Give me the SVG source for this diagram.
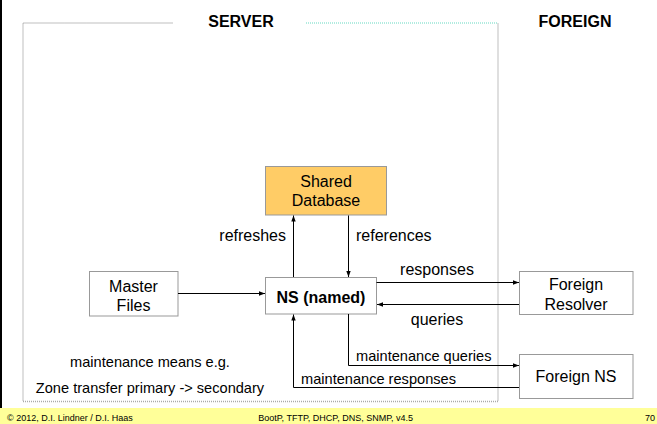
<svg xmlns="http://www.w3.org/2000/svg" width="657" height="424" viewBox="0 0 657 424">
<style>
text{font-family:"Liberation Sans",Arial,sans-serif;fill:#000}
.n{font-size:16px;text-anchor:middle}
.b{font-weight:bold}
.l{font-size:16px}
.s{font-size:14.6px}
.f{font-size:9px}
.box{fill:#fff;stroke:#999;stroke-width:1}
.c{fill:none;stroke:#000;stroke-width:1}
.dot{fill:none;stroke:#aaa;stroke-width:1.5;stroke-dasharray:1 1}
</style>
<defs>
<marker id="ah" viewBox="0 0 6 6" refX="6" refY="3" markerWidth="6" markerHeight="6" orient="auto" markerUnits="userSpaceOnUse">
<path d="M0,0.8 L6,3 L0,5.2 z" fill="#000"/>
</marker>
</defs>
<rect x="0" y="0" width="657" height="424" fill="#fff"/>
<line x1="1" y1="0" x2="1" y2="408" stroke="#000" stroke-width="2"/>
<rect x="0" y="408" width="657" height="16" fill="#FFFF99"/>

<g id="frame">
<polyline class="dot" points="172.5,23 23,23 23,401.5 498,401.5 498,23"/>
<line x1="306" y1="23" x2="498" y2="23" stroke="#99E6D6" stroke-width="1.5" stroke-dasharray="1 1"/>
<text class="n b" x="241" y="27">SERVER</text>
<text class="n b" x="575" y="27">FOREIGN</text>
</g>

<g id="shared-database">
<rect x="265.5" y="166.5" width="121" height="48.5" fill="#FFCC66" stroke="#999"/>
<text class="n" x="326" y="187">Shared</text>
<text class="n" x="326" y="206">Database</text>
</g>
<g id="ns-named">
<rect class="box" x="265.5" y="277.5" width="111" height="36.5"/>
<text class="n b" x="321" y="303">NS (named)</text>
</g>
<g id="master-files">
<rect class="box" x="89.5" y="271.5" width="88.5" height="44.5"/>
<text class="n" x="133.5" y="292">Master</text>
<text class="n" x="133.5" y="311">Files</text>
</g>
<g id="foreign-resolver">
<rect class="box" x="519.5" y="271.5" width="113.5" height="43"/>
<text class="n" x="576" y="290">Foreign</text>
<text class="n" x="576" y="310">Resolver</text>
</g>
<g id="foreign-ns">
<rect class="box" x="519.5" y="354.5" width="113.5" height="44"/>
<text class="n" x="576" y="382">Foreign NS</text>
</g>

<g id="connectors">
<line class="c" x1="178" y1="293.5" x2="265" y2="293.5" marker-end="url(#ah)"/>
<line class="c" x1="293.5" y1="277" x2="293.5" y2="215.5" marker-end="url(#ah)"/>
<line class="c" x1="348.5" y1="215.5" x2="348.5" y2="277" marker-end="url(#ah)"/>
<line class="c" x1="376.5" y1="282.5" x2="519" y2="282.5" marker-end="url(#ah)"/>
<line class="c" x1="519" y1="304.5" x2="377" y2="304.5" marker-end="url(#ah)"/>
<polyline class="c" points="348.5,314 348.5,365.5 519,365.5" marker-end="url(#ah)"/>
<polyline class="c" points="519,387.5 293.5,387.5 293.5,314.5" marker-end="url(#ah)"/>
<text class="l" x="286" y="241" text-anchor="end">refreshes</text>
<text class="l" x="356" y="241">references</text>
<text class="l" x="437" y="274.5" text-anchor="middle">responses</text>
<text class="l" x="437" y="324.5" text-anchor="middle">queries</text>
<text class="s" x="356" y="361">maintenance queries</text>
<text class="s" x="301" y="383.5">maintenance responses</text>
</g>

<text class="s" x="150" y="367" text-anchor="middle">maintenance means e.g.</text>
<text class="s" x="150" y="393" text-anchor="middle">Zone transfer primary -&gt; secondary</text>

<text class="f" x="7" y="421">© 2012, D.I. Lindner / D.I. Haas</text>
<text class="f" x="413" y="421" text-anchor="end">BootP, TFTP, DHCP, DNS, SNMP, v4.5</text>
<text class="f" x="655" y="421" text-anchor="end">70</text>
</svg>
